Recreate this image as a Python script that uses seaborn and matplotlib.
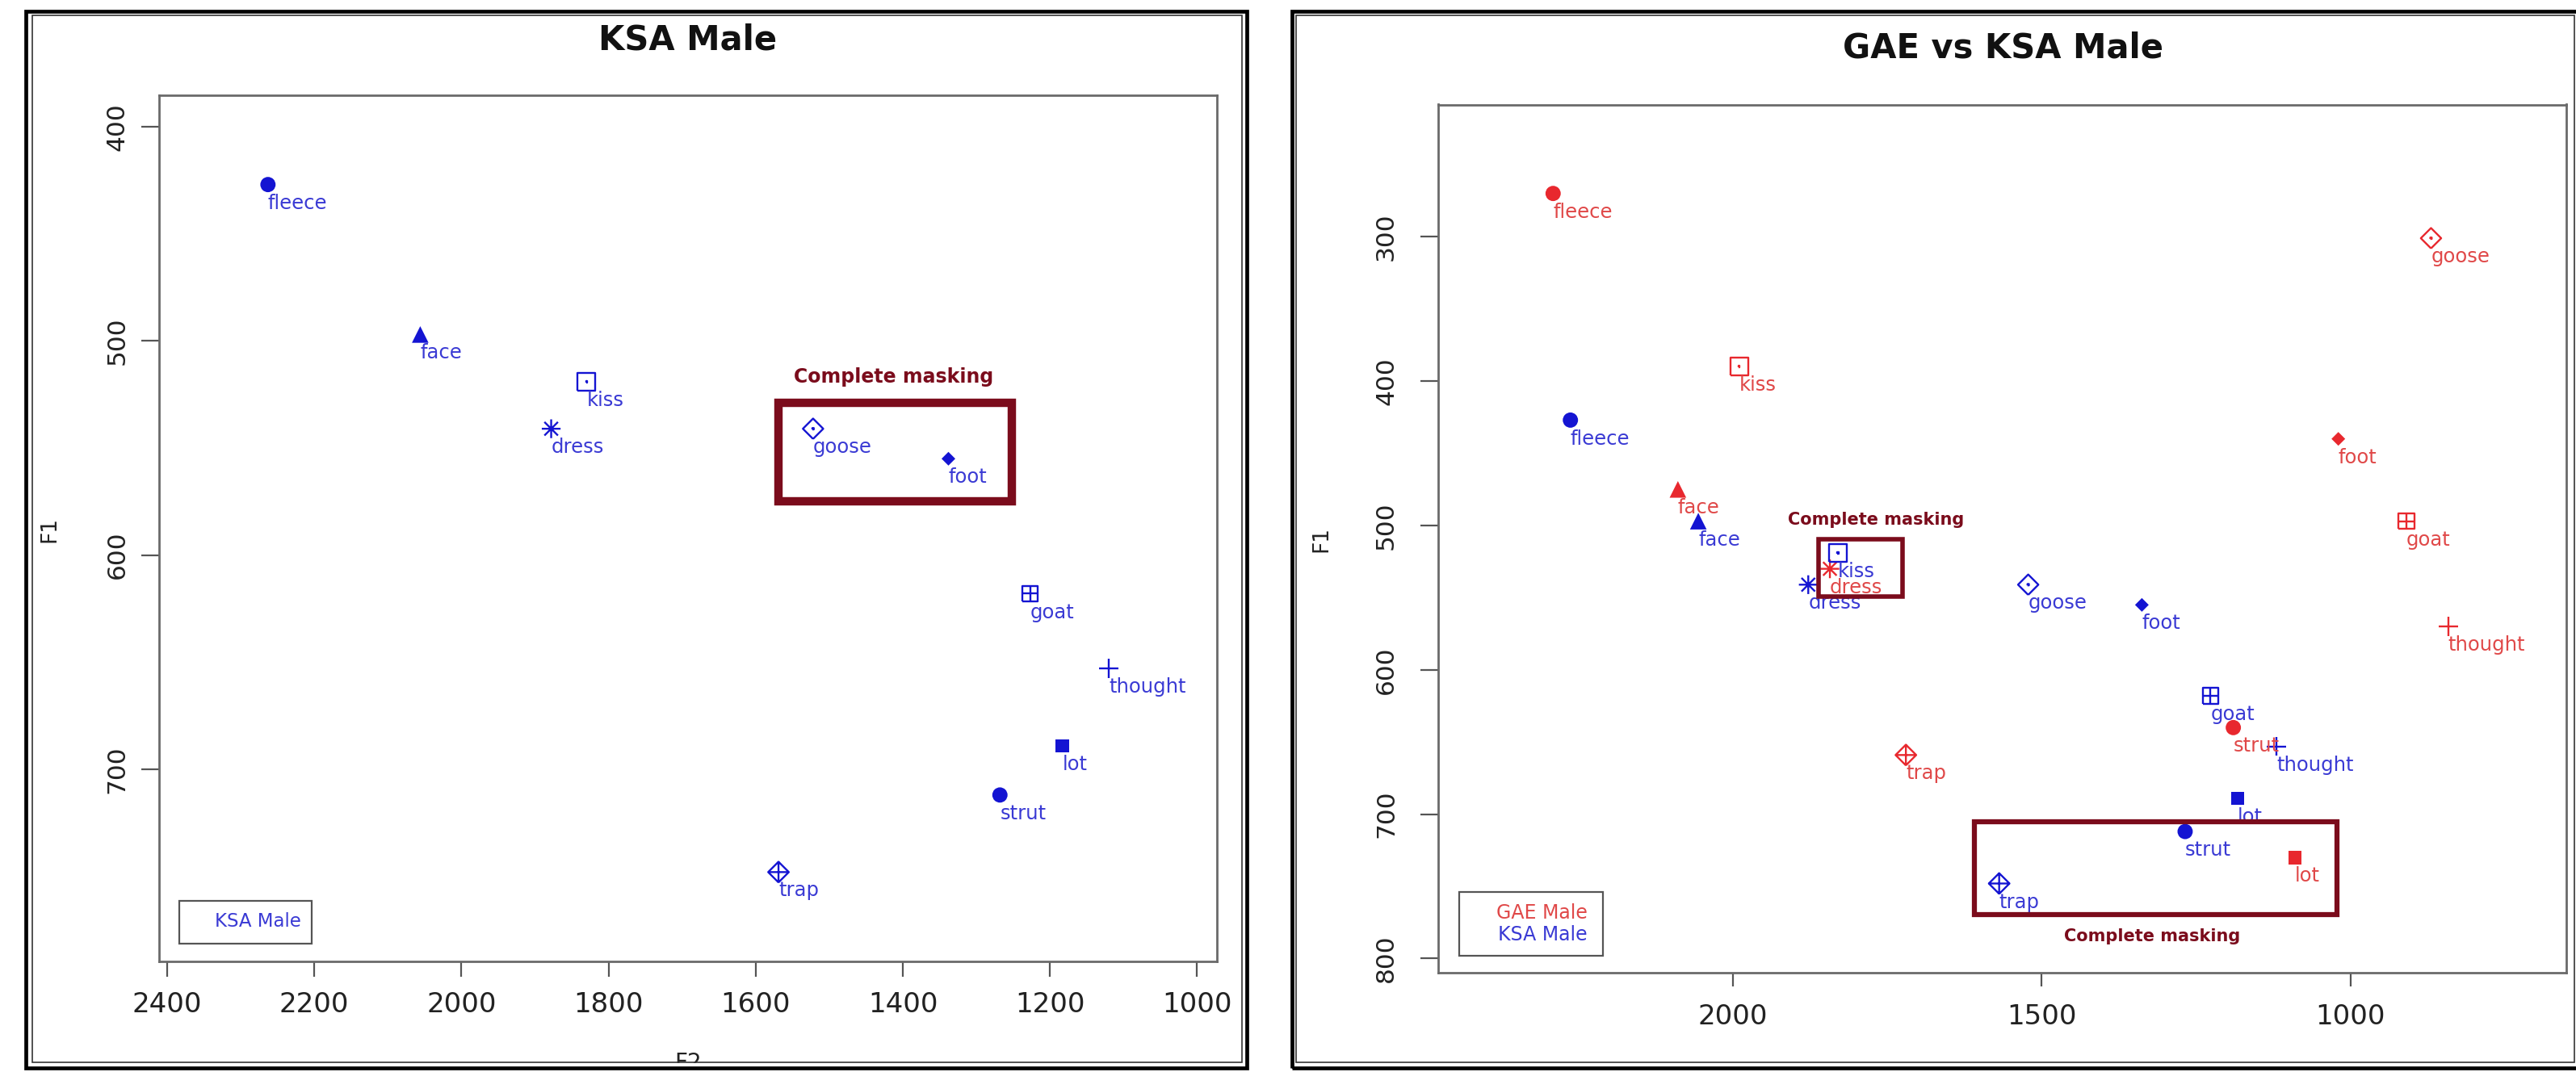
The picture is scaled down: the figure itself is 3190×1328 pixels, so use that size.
import numpy as np
import pandas as pd
import matplotlib
matplotlib.use("Agg")
import matplotlib.pyplot as plt
from matplotlib.markers import MarkerStyle
from matplotlib.path import Path
from matplotlib.patches import Rectangle
import seaborn as sns

# ---- data ----
VOWELS = ['fleece', 'face', 'kiss', 'dress', 'goose', 'foot', 'goat', 'thought', 'lot', 'strut', 'trap']
KSA_F2 = [2263, 2056, 1830, 1878, 1522, 1338, 1227, 1120, 1183, 1268, 1569]
KSA_F1 = [427, 497, 519, 541, 541, 555, 618, 653, 689, 712, 748]
GAE_F2 = [2291, 2089, 1990, 1843, 870, 1020, 910, 842, 1090, 1190, 1720]
GAE_F1 = [270, 475, 390, 530, 301, 440, 497, 570, 730, 640, 659]

LEFT_XTICKS = [2400, 2200, 2000, 1800, 1600, 1400, 1200, 1000]
LEFT_YTICKS = [400, 500, 600, 700]
RIGHT_XTICKS = [2000, 1500, 1000]
RIGHT_YTICKS = [300, 400, 500, 600, 700, 800]

# masking boxes in data units: (F2 left, F2 right, F1 top, F1 bottom)
LEFT_MASK = (1569, 1252, 529, 575)
RIGHT_MASK_SMALL = (1861, 1726, 509.5, 549)
RIGHT_MASK_BIG = (1609, 1022, 705.5, 769.5)

W, H = 3190, 1328
BLUE, BLUE_TXT = '#1414d2', '#3a3ad4'
RED, RED_TXT = '#e8282e', '#e04848'
MASK = '#7b0c1c'

ksa = pd.DataFrame({'vowel': VOWELS, 'F2': KSA_F2, 'F1': KSA_F1})
gae = pd.DataFrame({'vowel': VOWELS, 'F2': GAE_F2, 'F1': GAE_F1})


def make_path(*segs):
    verts, codes = [], []
    for seg in segs:
        verts += seg
        codes += [Path.MOVETO] + [Path.LINETO] * (len(seg) - 1)
    return Path(verts, codes)


SQ = [(-1, -1), (1, -1), (1, 1), (-1, 1), (-1, -1)]
DIA = [(0, -1), (1, 0), (0, 1), (-1, 0), (0, -1)]
DOT = [(-.07, -.07), (.07, -.07), (.07, .07), (-.07, .07), (-.07, -.07)]
HL, VL = [(-1, 0), (1, 0)], [(0, -1), (0, 1)]
D1, D2 = [(-.72, -.72), (.72, .72)], [(-.72, .72), (.72, -.72)]

open_m = lambda p: MarkerStyle(p, fillstyle='none')
# (marker, size, filled)
MARKERS = {
    'fleece': ('o', 185, True),
    'face': ('^', 220, True),
    'kiss': (open_m(make_path(SQ, DOT)), 250, False),
    'dress': (open_m(make_path(HL, VL, D1, D2)), 280, False),
    'goose': (open_m(make_path(DIA, DOT)), 330, False),
    'foot': ('D', 75, True),
    'goat': (open_m(make_path(SQ, HL, VL)), 200, False),
    'thought': (open_m(make_path(HL, VL)), 290, False),
    'lot': ('s', 140, True),
    'strut': ('o', 185, True),
    'trap': (open_m(make_path(DIA, HL, VL)), 340, False),
}

sns.set_style('white')
plt.rcParams['font.family'] = ['DejaVu Sans']
plt.rcParams['axes.edgecolor'] = '#6a6a6a'
plt.rcParams['axes.linewidth'] = 2.0

fig = plt.figure(figsize=(W / 100, H / 100), dpi=100)


def fx(px):
    return px / W


def fy(py):
    return 1 - py / H


def add_axes_px(x0, y0, x1, y1):
    return fig.add_axes([fx(x0), fy(y1), (x1 - x0) / W, (y1 - y0) / H])


def draw_speaker(ax, df, mcol, tcol):
    for _, r in df.iterrows():
        m, s, filled = MARKERS[r['vowel']]
        sns.scatterplot(data=df[df['vowel'] == r['vowel']], x='F2', y='F1', ax=ax,
                        marker=m, s=s, color=mcol, linewidth=0 if filled else 1.7,
                        edgecolor='none' if filled else None, legend=False, zorder=3)
        ax.annotate(r['vowel'], (r['F2'], r['F1']), xytext=(0, -8), textcoords='offset points',
                    ha='left', va='top', fontsize=17.5, color=tcol, zorder=4)


def mask_box(ax, box, lw, label, lx, ly, fs):
    x0, x1, y0, y1 = box
    ax.add_patch(Rectangle((x1, y0), x0 - x1, y1 - y0, fill=False, edgecolor=MASK,
                           linewidth=lw, zorder=5))
    ax.text(lx, ly, label, ha='center', va='center', fontsize=fs, fontweight='bold',
            color=MASK, zorder=5)


def style_axes(ax, xlim, ylim, xticks, yticks, xlen, ylen, xpad, ypad):
    ax.set_xlim(*xlim)
    ax.set_ylim(*ylim)
    ax.set_xticks(xticks)
    ax.set_yticks(yticks)
    ax.set_xlabel('')
    ax.set_ylabel('')
    ax.tick_params(axis='x', bottom=True, direction='out', length=xlen, width=1.6,
                   color='#555555', labelsize=24.5, labelcolor='#222222', pad=xpad)
    ax.tick_params(axis='y', left=True, direction='out', length=ylen, width=1.6,
                   color='#555555', labelsize=22.5, labelcolor='#222222', pad=ypad,
                   labelrotation=90)
    for t in ax.get_yticklabels():
        t.set_va('center')


# ---- left panel: KSA Male ----
axL = add_axes_px(197, 118, 1507, 1191)
draw_speaker(axL, ksa, BLUE, BLUE_TXT)
style_axes(axL, (2411, 973), (789.7, 385.3), LEFT_XTICKS, LEFT_YTICKS, 13.5, 16, 13, 11)
mask_box(axL, LEFT_MASK, 7.5, 'Complete masking', 1412, 517, 17)

# ---- right panel: GAE vs KSA Male ----
axR = add_axes_px(1781, 129.5, 3178, 1205)
draw_speaker(axR, gae, RED, RED_TXT)
draw_speaker(axR, ksa, BLUE, BLUE_TXT)
style_axes(axR, (2477, 651), (809.8, 208.4), RIGHT_XTICKS, RIGHT_YTICKS, 12, 16, 15.5, 20)
mask_box(axR, RIGHT_MASK_SMALL, 4, 'Complete masking', 1769, 496, 15)
mask_box(axR, RIGHT_MASK_BIG, 4.5, 'Complete masking', 1322, 784.5, 15)

# ---- titles, axis labels ----
fig.text(fx(852), fy(49), 'KSA Male', ha='center', va='center', fontsize=30, fontweight='bold', color='#111111')
fig.text(fx(2480), fy(59), 'GAE vs KSA Male', ha='center', va='center', fontsize=30, fontweight='bold', color='#111111')
fig.text(fx(61), fy(656), 'F1', ha='center', va='center', rotation=90, fontsize=19, color='#222222')
fig.text(fx(1636), fy(668), 'F1', ha='center', va='center', rotation=90, fontsize=19, color='#222222')
fig.text(fx(852), fy(1303), 'F2', ha='center', va='top', fontsize=20, color='#222222', zorder=1)

# ---- legends (text only, boxed) ----
def legend_px(x0, y0, x1, y1, entries, fs):
    fig.add_artist(Rectangle((fx(x0), fy(y1)), (x1 - x0) / W, (y1 - y0) / H, transform=fig.transFigure,
                             fill=False, edgecolor='#555555', linewidth=1.6, zorder=3))
    for label, col, tx, ty in entries:
        fig.text(fx(tx), fy(ty), label, ha='left', va='center', fontsize=fs, color=col, zorder=3)


legend_px(222, 1116, 386, 1169, [('KSA Male', BLUE_TXT, 266, 1142)], 16.5)
legend_px(1807, 1105, 1985, 1184, [('GAE Male', RED_TXT, 1853, 1131), ('KSA Male', BLUE_TXT, 1855, 1158)], 17)

# ---- panel frames (double border), clipping the cut-off F2 ----
fig.add_artist(Rectangle((fx(41), fy(1328)), (1536 - 41) / W, 11.5 / H, transform=fig.transFigure,
                         facecolor='white', edgecolor='none', zorder=2))


def frame_px(x0, y0, x1, y1, lw, col):
    fig.add_artist(Rectangle((fx(x0), fy(y1)), (x1 - x0) / W, (y1 - y0) / H, transform=fig.transFigure,
                             fill=False, edgecolor=col, linewidth=lw, zorder=4))


frame_px(31.5, 14, 1544, 1322.5, 3.4, '#000000')
frame_px(40, 19, 1538, 1316, 1.2, '#333333')
frame_px(1600, 14, 3200, 1322.5, 3.4, '#000000')
frame_px(1604.5, 19, 3188, 1316, 1.2, '#333333')

fig.savefig('out.png', dpi=100)
